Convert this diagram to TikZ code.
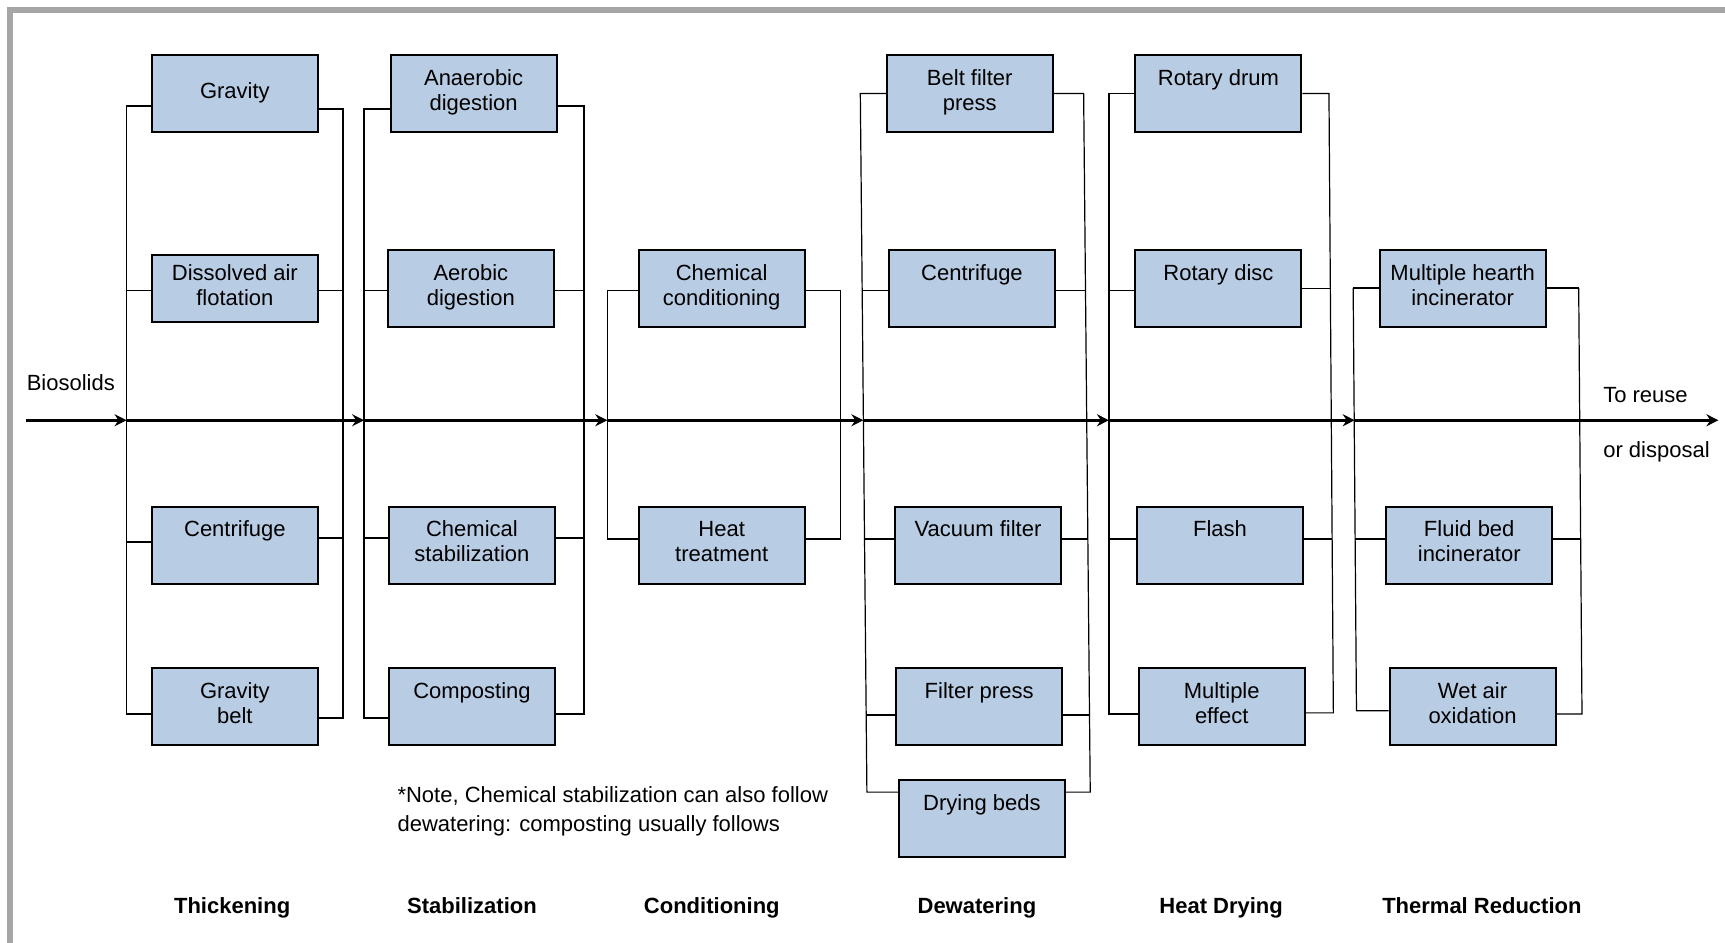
\documentclass[tikz,border=0pt]{standalone}
\usepackage{fontspec}
\setmainfont{Liberation Sans}
\usetikzlibrary{arrows.meta}
\definecolor{boxfill}{HTML}{B8CCE4}
\definecolor{framegray}{HTML}{A6A6A6}
\begin{document}
\begin{tikzpicture}[x=0.55pt,y=-0.55pt,
  every node/.style={font=\fontsize{11}{12.65}\selectfont, inner sep=0pt},
  box/.style={draw=black, fill=boxfill, line width=1pt,
    minimum width=83pt, minimum height=38.5pt, align=center,
    execute at begin node=\strut, execute at end node=\strut},
  flatbox/.style={box, minimum height=33.5pt},
  heavybus/.style={line width=0.9pt, line join=miter},
  lightbus/.style={line width=0.6pt, line join=miter},
  flow/.style={line width=1.25pt, -{Stealth[length=6pt,width=6pt,inset=2pt]}},
  label/.style={anchor=base west},
  stage/.style={anchor=base, font=\fontsize{11}{12.65}\selectfont\bfseries}
]
\useasboundingbox (0,0) rectangle (1568,857);

% page frame (top and left edges)
\draw[framegray, line width=2.8pt] (9,857) -- (9,9) -- (1568,9);

% ---------- process boxes ----------
% Thickening
\node[box]     (grav)  at (213.5,85)    {Gravity};
\node[flatbox] (daf)   at (213.5,262.5) {Dissolved air\\flotation};
\node[box]     (tcen)  at (213.5,495.5) {Centrifuge\\};
\node[box]     (gbelt) at (213.5,642.5) {Gravity\\belt};
% Stabilization
\node[box] (anaer) at (430.5,85)    {Anaerobic\\digestion};
\node[box] (aer)   at (428,262.5)   {Aerobic\\digestion};
\node[box] (cstab) at (429,495.5)   {Chemical\\stabilization};
\node[box] (comp)  at (429,642.5)   {Composting\\};
% Conditioning
\node[box] (ccond) at (656,262.5) {Chemical\\conditioning};
\node[box] (heat)  at (656,495.5) {Heat\\treatment};
% Dewatering
\node[box] (bfp)  at (881.5,85)    {Belt filter\\press};
\node[box] (dcen) at (883.5,262.5) {Centrifuge\\};
\node[box] (vac)  at (889,495.5)   {Vacuum filter\\};
\node[box] (fpr)  at (890,642.5)   {Filter press\\};
\node[box] (dbed) at (892.5,744)   {Drying beds\\};
% Heat drying
\node[box] (rdrum) at (1107.5,85)    {Rotary drum\\};
\node[box] (rdisc) at (1107.5,262.5) {Rotary disc\\};
\node[box] (flash) at (1109,495.5)   {Flash\\};
\node[box] (meff)  at (1110.5,642.5) {Multiple\\effect};
% Thermal reduction
\node[box] (mhi) at (1329.5,262.5) {Multiple hearth\\incinerator};
\node[box] (fbi) at (1335.5,495.5) {Fluid bed\\incinerator};
\node[box] (wao) at (1338.5,642.5) {Wet air\\oxidation};

% ---------- collector buses ----------
% Thickening
\coordinate (tL1) at (115,96);  \coordinate (tL2) at (115,264);
\coordinate (tL3) at (115,493); \coordinate (tL4) at (115,649);
\coordinate (tR1) at (312,99);  \coordinate (tR2) at (312,264);
\coordinate (tR3) at (312,489); \coordinate (tR4) at (312,653);
\draw[heavybus] (grav.west |- tL1) -- (tL1) -- (tL4) -- (gbelt.west |- tL4);
\draw[heavybus] (daf.west |- tL2) -- (tL2);
\draw[heavybus] (tcen.west |- tL3) -- (tL3);
\draw[heavybus] (grav.east |- tR1) -- (tR1) -- (tR4) -- (gbelt.east |- tR4);
\draw[heavybus] (daf.east |- tR2) -- (tR2);
\draw[heavybus] (tcen.east |- tR3) -- (tR3);

% Stabilization
\coordinate (sL1) at (331,99);  \coordinate (sL2) at (331,264);
\coordinate (sL3) at (331,489); \coordinate (sL4) at (331,653);
\coordinate (sR1) at (531,96);  \coordinate (sR2) at (531,264);
\coordinate (sR3) at (531,489); \coordinate (sR4) at (531,649);
\draw[heavybus] (anaer.west |- sL1) -- (sL1) -- (sL4) -- (comp.west |- sL4);
\draw[heavybus] (aer.west |- sL2) -- (sL2);
\draw[heavybus] (cstab.west |- sL3) -- (sL3);
\draw[heavybus] (anaer.east |- sR1) -- (sR1) -- (sR4) -- (comp.east |- sR4);
\draw[heavybus] (aer.east |- sR2) -- (sR2);
\draw[heavybus] (cstab.east |- sR3) -- (sR3);

% Conditioning
\coordinate (cL1) at (552,264); \coordinate (cL2) at (552,490);
\coordinate (cR1) at (764,264); \coordinate (cR2) at (764,490);
\draw[heavybus] (ccond.west |- cL1) -- (cL1);
\draw[lightbus] (cL1) -- (cL2) -- (heat.west |- cL2);
\draw[lightbus] (ccond.east |- cR1) -- (cR1) -- (cR2) -- (heat.east |- cR2);

% Dewatering
\coordinate (dL1) at (782,85);    \coordinate (dL2) at (783.7,264);
\coordinate (dL3) at (785.8,490); \coordinate (dL4) at (787.3,650);
\coordinate (dL5) at (788,720);
\coordinate (dR1) at (985,85);    \coordinate (dR2) at (986.7,264);
\coordinate (dR3) at (988.8,490); \coordinate (dR4) at (990.3,650);
\coordinate (dR5) at (991,720);
\draw[lightbus] (bfp.west |- dL1) -- (dL1) -- (dL5) -- (dbed.west |- dL5);
\draw[lightbus] (dcen.west |- dL2) -- (dL2);
\draw[lightbus] (vac.west |- dL3) -- (dL3);
\draw[lightbus] (fpr.west |- dL4) -- (dL4);
\draw[lightbus] (bfp.east |- dR1) -- (dR1) -- (dR5) -- (dbed.east |- dR5);
\draw[lightbus] (dcen.east |- dR2) -- (dR2);
\draw[lightbus] (vac.east |- dR3) -- (dR3);
\draw[lightbus] (fpr.east |- dR4) -- (dR4);

% Heat drying
\coordinate (hL1) at (1008,85);  \coordinate (hL2) at (1008,264);
\coordinate (hL3) at (1008,490); \coordinate (hL4) at (1008,649);
\coordinate (hR1) at (1208,85);  \coordinate (hR2) at (1209.3,262);
\coordinate (hR3) at (1210.9,490); \coordinate (hR4) at (1212,648);
\draw[lightbus] (rdrum.west |- hL1) -- (hL1) -- (hL4) -- (meff.west |- hL4);
\draw[lightbus] (rdisc.west |- hL2) -- (hL2);
\draw[lightbus] (flash.west |- hL3) -- (hL3);
\draw[lightbus] (rdrum.east |- hR1) -- (hR1) -- (hR4) -- (meff.east |- hR4);
\draw[lightbus] (rdisc.east |- hR2) -- (hR2);
\draw[lightbus] (flash.east |- hR3) -- (hR3);

% Thermal reduction
\coordinate (rL1) at (1230,262);   \coordinate (rL2) at (1231.8,490);
\coordinate (rL3) at (1233,646);
\coordinate (rR1) at (1435,262);   \coordinate (rR2) at (1436.8,490);
\coordinate (rR3) at (1438,649);
\draw[heavybus] (mhi.west |- rL1) -- (rL1);
\draw[heavybus] (mhi.east |- rR1) -- (rR1);
\draw[lightbus] (rL1) -- (rL3) -- (wao.west |- rL3);
\draw[lightbus] (fbi.west |- rL2) -- (rL2);
\draw[lightbus] (rR1) -- (rR3) -- (wao.east |- rR3);
\draw[lightbus] (fbi.east |- rR2) -- (rR2);

% ---------- main flow line ----------
\coordinate (src)  at (24,382);
\coordinate (tIn)  at (115,382);
\coordinate (sIn)  at (331,382);
\coordinate (cIn)  at (552,382);
\coordinate (dIn)  at (784.8,382);
\coordinate (hIn)  at (1008,382);
\coordinate (rIn)  at (1231.4,382);
\coordinate (sink) at (1562,382);
\draw[flow] (src) -- (tIn);
\draw[flow] (tIn) -- (sIn);
\draw[flow] (sIn) -- (cIn);
\draw[flow] (cIn) -- (dIn);
\draw[flow] (dIn) -- (hIn);
\draw[flow] (hIn) -- (rIn);
\draw[flow] (rIn) -- (sink);

% ---------- labels ----------
\node[label] (inlabel)   at (24,355)   {Biosolids};
\node[label] (outlabel1) at (1457,366) {To reuse};
\node[label] (outlabel2) at (1457,416) {or disposal};
\node[label] (note1) at (361,729) {*Note, Chemical stabilization can also follow};
\node[label] (note2) at (361,756) {dewatering: composting usually follows};

\node[stage] (st1) at (211,830)  {Thickening};
\node[stage] (st2) at (429,830)  {Stabilization};
\node[stage] (st3) at (647,830)  {Conditioning};
\node[stage] (st4) at (888,830)  {Dewatering};
\node[stage] (st5) at (1110,830) {Heat Drying};
\node[stage] (st6) at (1347,830) {Thermal Reduction};
\end{tikzpicture}
\end{document}
